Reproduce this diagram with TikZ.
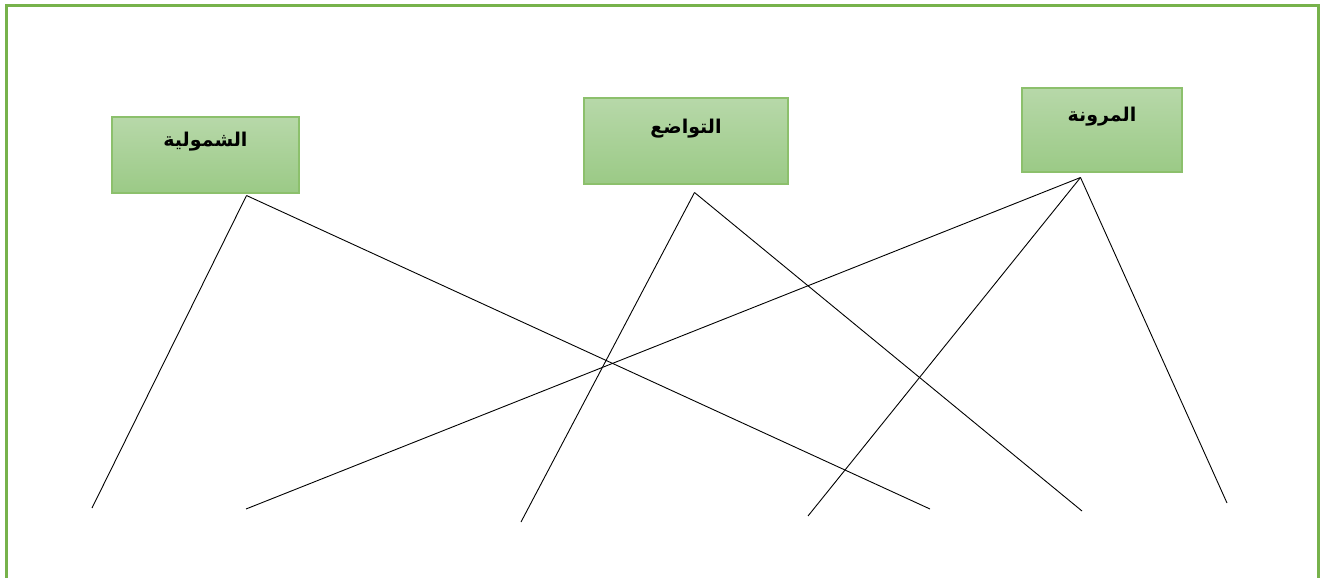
\documentclass[tikz,border=0pt]{standalone}
\usepackage{fontspec}
\newfontfamily\arabicfont[Script=Arabic]{DejaVu Sans}
\TeXXeTstate=1
\begin{document}
\begin{tikzpicture}[x=1pt,y=-1pt,
  box/.style={draw=boxedge, line width=1.3pt, top color=gtop, bottom color=gbot, inner sep=0pt},
  lbl/.style={font=\arabicfont\bfseries\fontsize{19}{22}\selectfont, inner sep=0pt},
  conn/.style={line width=0.9pt, black}]
\definecolor{frame}{HTML}{77B24B}
\definecolor{boxedge}{HTML}{8CC06C}
\definecolor{gtop}{HTML}{B7D8A9}
\definecolor{gbot}{HTML}{9BCA86}
\useasboundingbox (0,0) rectangle (1322,578);
\draw[frame, line width=3pt] (6,6) rectangle (1318,582);
% boxes
\node[box, minimum width=187pt, minimum height=76pt] (b1) at (205.5,155) {};
\node[box, minimum width=204pt, minimum height=86pt] (b2) at (686,141) {};
\node[box, minimum width=160pt, minimum height=84pt] (b3) at (1102,130) {};
\node[lbl] (t1) at (205.5,142) {\beginR الشمولية\endR};
\node[lbl] (t2) at (686,129) {\beginR التواضع\endR};
\node[lbl] (t3) at (1102,117) {\beginR المرونة\endR};
% apexes
\coordinate (a1) at (246.5,195.5);
\coordinate (a2) at (694.5,192.5);
\coordinate (a3) at (1080.5,177.5);
% ends
\coordinate (e1) at (92,508);
\coordinate (e2) at (246,509);
\coordinate (e3) at (521,522);
\coordinate (e4) at (808,516);
\coordinate (e5) at (930,509);
\coordinate (e6) at (1082,511);
\coordinate (e7) at (1227,503);
\draw[conn] (a1) -- (e1);
\draw[conn] (a1) -- (e5);
\draw[conn] (a2) -- (e3);
\draw[conn] (a2) -- (e6);
\draw[conn] (a3) -- (e2);
\draw[conn] (a3) -- (e4);
\draw[conn] (a3) -- (e7);
\end{tikzpicture}
\end{document}
